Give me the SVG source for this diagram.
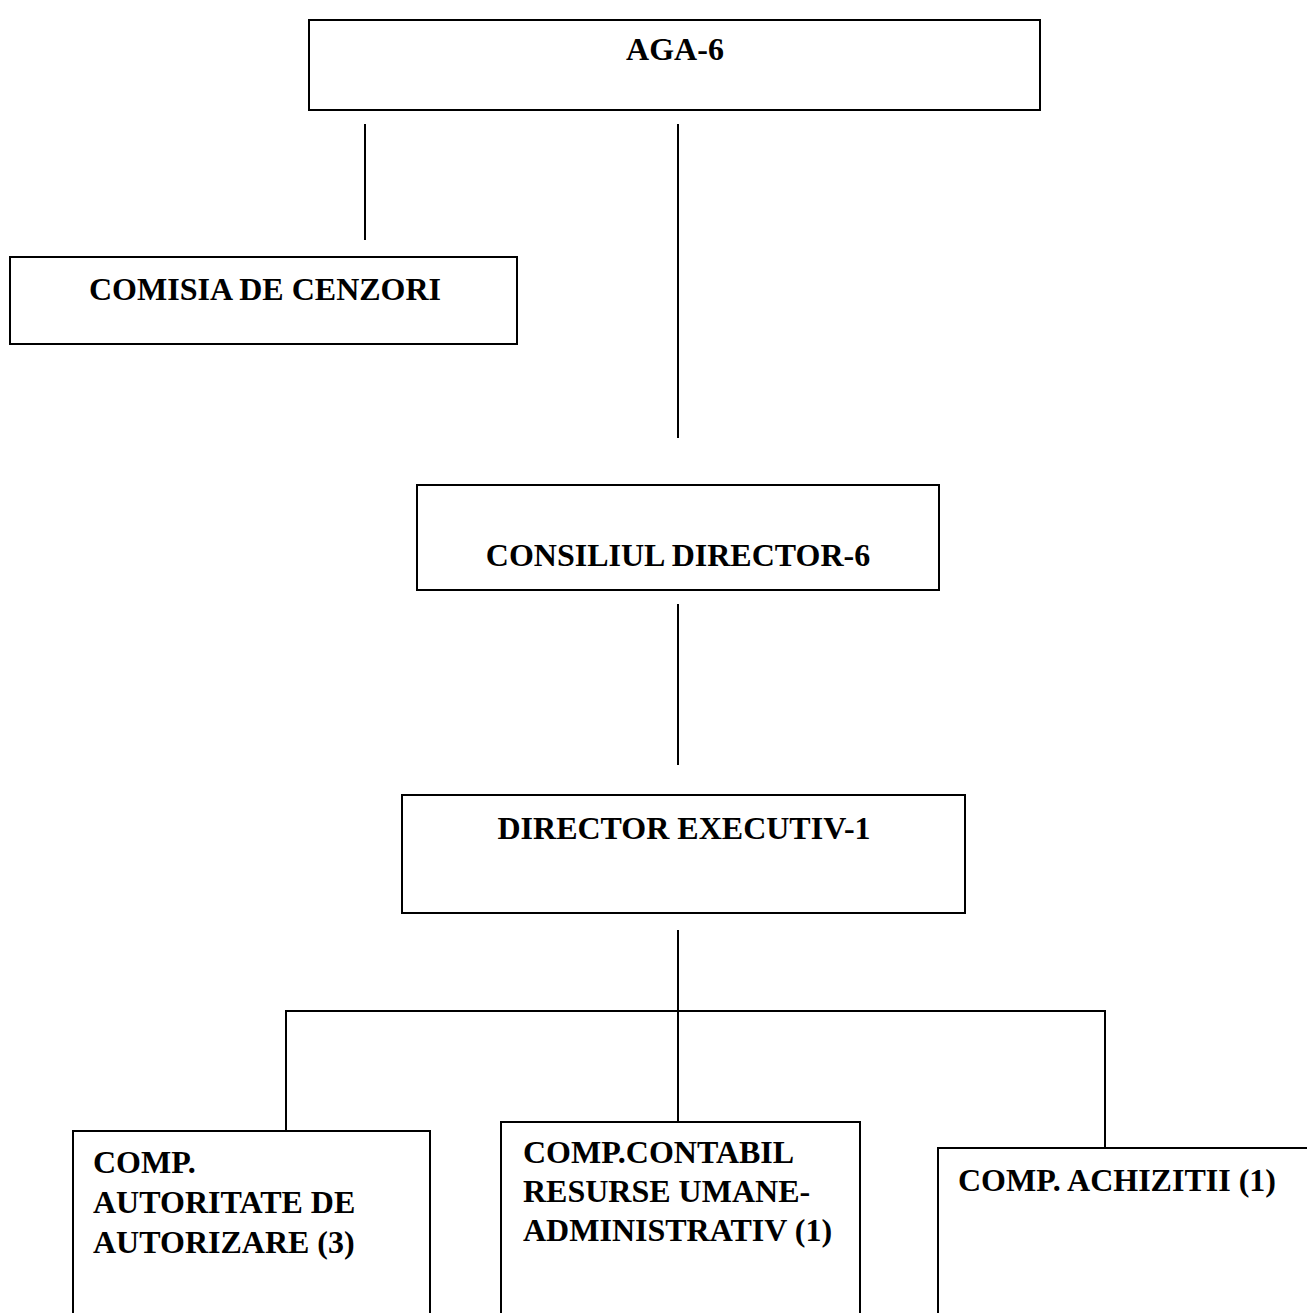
<svg xmlns="http://www.w3.org/2000/svg" width="1307" height="1313" viewBox="0 0 1307 1313">
<style>
.box{fill:#fff;stroke:#000;stroke-width:2}
.ln{stroke:#000;stroke-width:2;fill:none}
.t{font-family:"Liberation Serif","Times New Roman",serif;font-weight:bold;font-size:32px;fill:#000}
.c{text-anchor:middle}
</style>
<rect width="1307" height="1313" fill="#fff"/>
<g id="connectors">
<line class="ln" x1="365" y1="124" x2="365" y2="240"/>
<line class="ln" x1="678" y1="124" x2="678" y2="438"/>
<line class="ln" x1="678" y1="604" x2="678" y2="765"/>
<line class="ln" x1="678" y1="930" x2="678" y2="1122"/>
<polyline class="ln" points="286,1131 286,1011 1105,1011 1105,1148"/>
</g>
<g id="aga">
<rect class="box" x="309" y="20" width="731" height="90"/>
<text class="t c" x="675" y="60">AGA-6</text>
</g>
<g id="cenzori">
<rect class="box" x="10" y="257" width="507" height="87"/>
<text class="t c" x="265" y="300">COMISIA DE CENZORI</text>
</g>
<g id="consiliul">
<rect class="box" x="417" y="485" width="522" height="105"/>
<text class="t c" x="678" y="566">CONSILIUL DIRECTOR-6</text>
</g>
<g id="director">
<rect class="box" x="402" y="795" width="563" height="118"/>
<text class="t c" x="684" y="839">DIRECTOR EXECUTIV-1</text>
</g>
<g id="comp1">
<rect class="box" x="73" y="1131" width="357" height="200"/>
<text class="t" x="93" y="1173">COMP.</text>
<text class="t" x="93" y="1213">AUTORITATE DE</text>
<text class="t" x="93" y="1253">AUTORIZARE (3)</text>
</g>
<g id="comp2">
<rect class="box" x="501" y="1122" width="359" height="210"/>
<text class="t" x="523" y="1163">COMP.CONTABIL</text>
<text class="t" x="523" y="1202">RESURSE UMANE-</text>
<text class="t" x="523" y="1241">ADMINISTRATIV (1)</text>
</g>
<g id="comp3">
<rect class="box" x="938" y="1148" width="400" height="200"/>
<text class="t" x="958" y="1191">COMP. ACHIZITII (1)</text>
</g>
</svg>
